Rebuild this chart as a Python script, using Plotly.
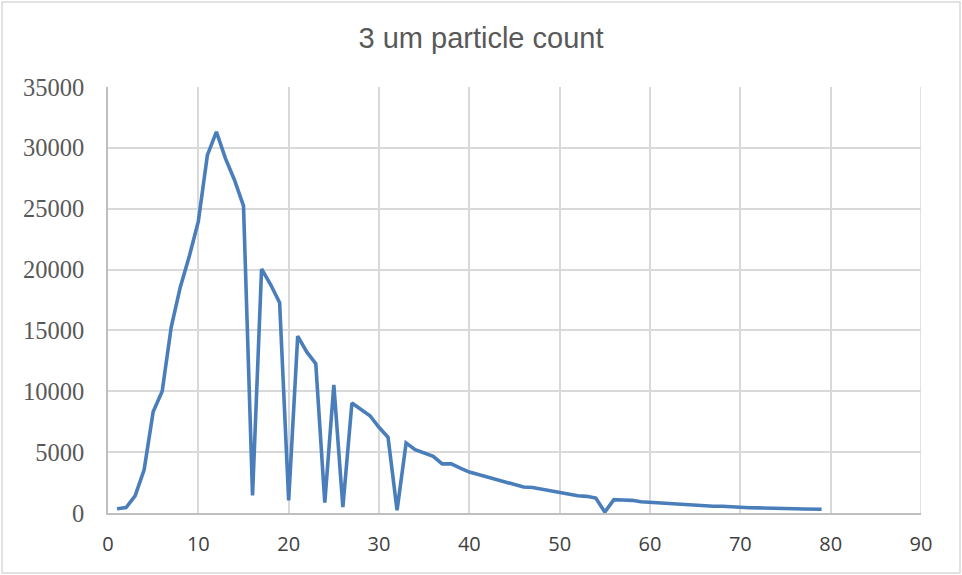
import plotly.graph_objects as go

x_vals = list(range(1, 80))
counts = [350, 450, 1400, 3550, 8320, 10000, 15280, 18550, 21090, 23950,
          29400, 31320, 29130, 27360, 25230, 1450, 20050, 18770, 17270, 1040,
          14540, 13230, 12275, 850, 10530, 490, 9030, 8490, 7990, 7040,
          6220, 220, 5760, 5210, 4940, 4660, 4040, 4040, 3680, 3360,
          3170, 2950, 2730, 2510, 2350, 2130, 2100, 1960, 1830, 1720,
          1590, 1420, 1370, 1230, 80, 1100, 1070, 1040, 930, 880,
          860, 820, 790, 700, 650, 580, 560, 560, 500, 450,
          430, 420, 420, 400, 380, 350, 330, 320, 310]

x_ticks = list(range(0, 100, 10))
y_ticks = list(range(0, 40000, 5000))
y_tick_text = [str(v) for v in y_ticks]

fig = go.Figure()
fig.add_trace(go.Scatter(x=x_vals, y=counts, mode="lines",
                         line=dict(color="#4a7ebb", width=3.6), showlegend=False))

fig.update_layout(
    width=962, height=575,
    margin=dict(l=108, r=41, t=87, b=62),
    paper_bgcolor="white", plot_bgcolor="white",
    title=dict(text="3 um particle count", x=0.5, xanchor="center", y=0.935, yanchor="middle",
               font=dict(family="Liberation Sans, Arial", size=29, color="#595959")),
    xaxis=dict(range=[0, 90], tickvals=x_ticks, showgrid=True, gridcolor="#d9d9d9", gridwidth=1.5,
               zeroline=False, showline=True, linecolor="#bfbfbf", linewidth=1.8,
               ticks="", tickfont=dict(family="Open Sans, Liberation Sans", size=20, color="#404040"),
               ticklabelstandoff=12),
    yaxis=dict(range=[0, 35000], tickvals=y_ticks, ticktext=y_tick_text, showgrid=True,
               gridcolor="#d9d9d9", gridwidth=1.5,
               zeroline=False, showline=True, linecolor="#bfbfbf", linewidth=1.8,
               ticks="", tickfont=dict(family="Liberation Serif, DejaVu Serif", size=24.5, color="#595959"),
               ticklabelstandoff=17),
    shapes=[dict(type="line", xref="x", yref="paper", x0=90, x1=90, y0=0, y1=1,
                 line=dict(color="#d9d9d9", width=1.5)),
            dict(type="rect", xref="paper", yref="paper", x0=-106/813, x1=1+39/813,
                 y0=-60/426, y1=1+85/426, line=dict(color="#d9d9d9", width=1.5))],
)
fig.write_html("out.html")
